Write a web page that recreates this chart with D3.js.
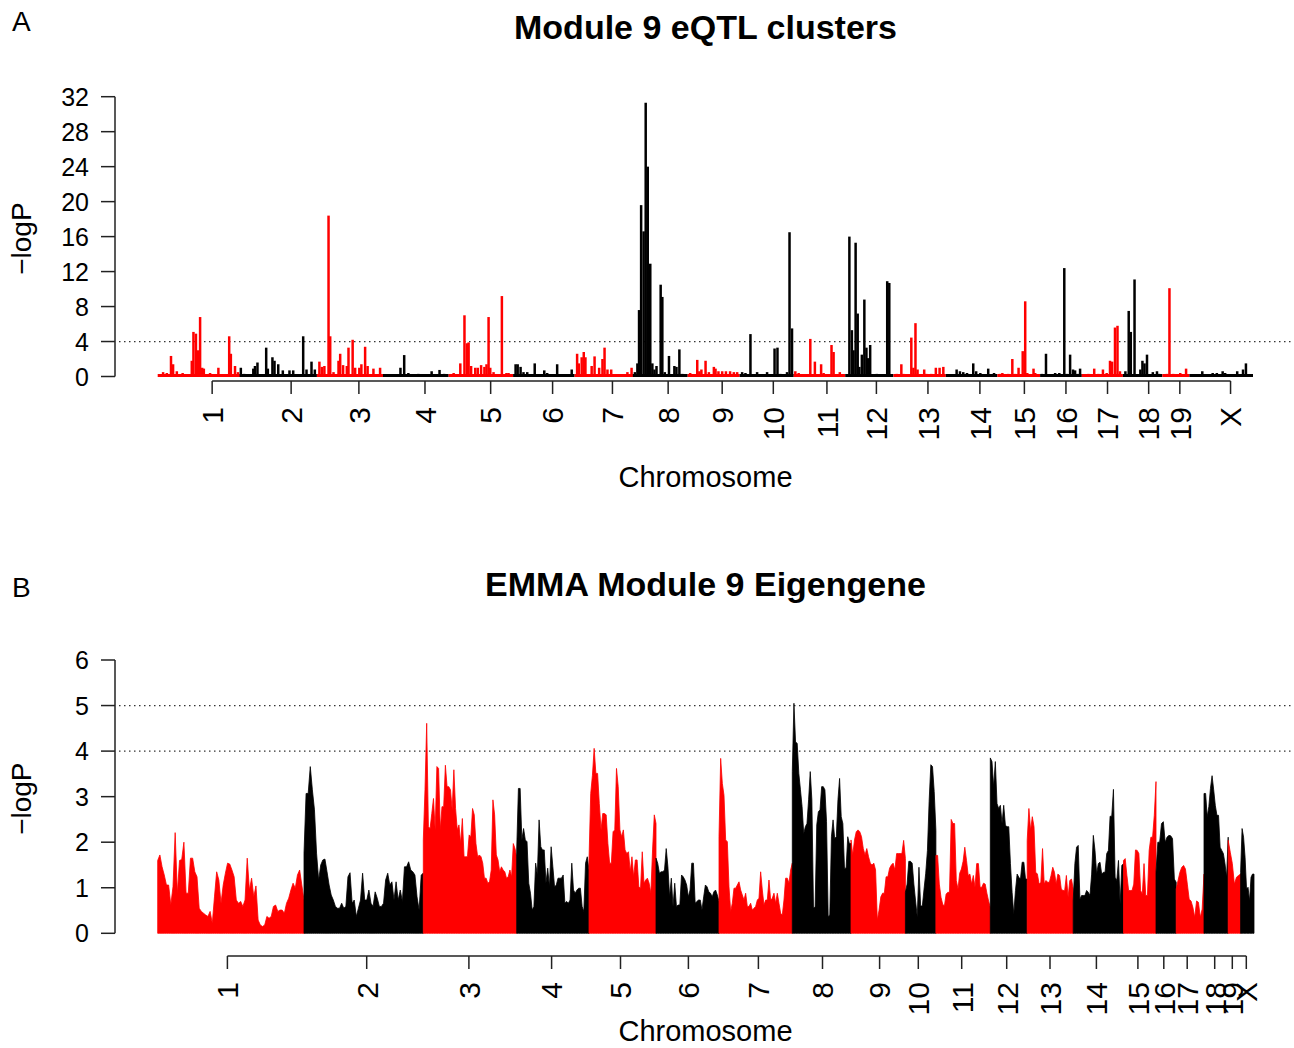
<!DOCTYPE html>
<html>
<head>
<meta charset="utf-8">
<script src="https://cdn.jsdelivr.net/npm/d3@7"></script>
<style>
body { margin: 0; background: #fff; }
text { font-family: "Liberation Sans", Arial, sans-serif; fill: #000; }
</style>
</head>
<body>
<svg id="chart" width="1294" height="1048"></svg>
<script>
// chromosome names, shared by both panels
const chromNames = ["1","2","3","4","5","6","7","8","9","10","11","12","13","14","15","16","17","18","19","X"];

// ---- panel A: eQTL clusters, positions in Mb ----
const chrLenMb = [198,185,159,158,155,148,140,132,125,130,124,116,126,124,103,100,99,95,65,153];
const tickPosA = [131,321,484,643,801,950,1094,1228,1358,1481,1610,1729,1853,1978,2085,2185,2285,2384,2459,2581];
const yTicksA = [0,4,8,12,16,20,24,28,32];
const thresholdA = [4];

// [position within chromosome (Mb), -logP]
const qtlBars = [
    [[13,0.5],[22,0.4],[32,2.35],[37,1.4],[46,0.6],[60,0.4],[82,1.8],[86,5.1],[92,4.9],[97,3.0],[102,6.8],[107,1.0],[111,0.9],[126,0.4],[146,1.0],[172,4.6],[176,2.6],[186,1.2],[193,0.5]],
    [[2,1.0],[10,0.3],[32,0.9],[36,1.2],[42,1.6],[63,3.3],[67,0.9],[78,2.2],[83,1.8],[92,1.4],[103,0.7],[119,0.7],[128,0.7],[152,4.6],[160,0.8],[172,1.7],[180,0.8]],
    [[6,1.7],[12,1.1],[18,1.2],[28,18.4],[32,4.6],[40,0.5],[52,1.8],[56,2.6],[63,1.3],[72,1.2],[76,3.3],[86,4.2],[92,1.0],[102,1.0],[107,1.4],[116,3.4],[122,1.2],[136,0.9],[152,1.0]],
    [[42,1.0],[51,2.45],[61,0.4],[85,0.3],[117,0.6],[136,0.75],[147,0.3]],
    [[12,0.4],[28,1.5],[38,7.0],[44,3.8],[48,3.9],[54,1.2],[64,1.0],[70,1.0],[78,1.3],[86,1.1],[91,1.4],[96,6.8],[100,1.0],[108,0.5],[128,9.2],[139,0.4],[144,0.4]],
    [[6,1.4],[11,1.4],[18,1.1],[25,0.5],[34,0.5],[52,1.5],[61,0.2],[75,0.7],[82,0.4],[106,1.4],[118,0.2],[141,0.8]],
    [[6,2.6],[10,1.5],[17,2.2],[22,2.8],[26,2.2],[41,1.2],[48,2.3],[59,1.0],[67,2.0],[72,3.3],[79,0.8],[88,0.8],[127,0.5],[137,1.0]],
    [[5,0.5],[11,1.5],[15,7.6],[20,19.6],[26,16.6],[31,31.3],[36,24.0],[42,12.9],[47,1.5],[52,0.8],[57,1.2],[67,10.5],[71,9.1],[77,0.5],[87,2.35],[92,0.2],[100,1.2],[105,1.1],[112,3.1],[119,0.3]],
    [[6,0.4],[23,1.9],[28,0.6],[33,0.8],[43,1.8],[51,0.5],[63,1.1],[67,0.9],[74,0.6],[83,0.6],[92,0.6],[102,0.6],[111,0.5],[119,0.5]],
    [[6,0.5],[14,0.4],[26,4.85],[42,0.5],[66,0.5],[84,3.2],[91,3.3],[98,0.3],[114,0.5],[120,16.5],[126,5.5]],
    [[4,0.6],[12,0.4],[26,0.2],[40,4.3],[51,1.7],[66,1.4],[72,0.4],[91,3.6],[96,2.8],[111,0.5]],
    [[10,16.0],[16,5.3],[20,3.0],[25,15.3],[30,7.2],[34,1.1],[40,2.5],[46,8.8],[51,3.3],[55,2.1],[60,3.6],[76,0.3],[101,10.9],[106,10.7]],
    [[8,0.3],[19,1.4],[24,0.3],[43,4.45],[48,1.0],[53,6.1],[58,0.8],[74,0.8],[79,0.3],[91,0.3],[102,1.0],[111,1.0],[120,1.1]],
    [[6,0.2],[26,0.8],[34,0.6],[42,0.5],[51,0.4],[66,1.5],[73,0.6],[83,0.4],[102,0.9],[106,0.2],[116,0.4]],
    [[6,0.3],[12,0.4],[26,0.3],[36,2.0],[43,0.3],[51,1.0],[61,2.9],[67,8.6],[72,0.4],[87,0.9],[91,0.4],[96,0.2]],
    [[4,0.3],[14,2.6],[24,0.2],[36,0.4],[46,0.4],[58,12.4],[64,0.3],[72,2.5],[79,0.8],[84,0.7],[90,0.3],[96,0.9]],
    [[4,0.2],[16,0.3],[30,0.9],[40,0.3],[51,0.8],[60,0.4],[68,1.8],[73,1.7],[80,5.6],[86,5.8],[92,0.6]],
    [[6,0.6],[14,7.5],[19,5.1],[28,11.1],[34,0.2],[42,0.8],[47,1.8],[52,1.5],[58,2.5],[66,0.2],[72,0.5],[82,0.6],[87,0.3]],
    [[5,0.2],[11,0.3],[17,10.1],[26,0.3],[33,0.2],[43,0.4],[49,0.2],[57,0.9]],
    [[6,0.1],[31,0.6],[42,0.1],[56,0.4],[66,0.4],[80,0.6],[86,0.4],[115,0.6],[122,0.2],[129,0.8],[136,1.5],[146,0.1]]
];

// ---- panel B: EMMA eigengene, positions in marker index ----
const snpCounts = [1463,1193,934,723,670,630,733,587,544,305,544,369,460,503,325,202,278,242,124,134];
const tickPosB = [697,2090,3112,3939,4628,5307,6007,6648,7219,7606,8040,8490,8923,9387,9802,10061,10295,10570,10746,10886];
const yTicksB = [0,1,2,3,4,5,6];
const thresholdB = [4,5];

// -logP along each chromosome, evenly spaced markers
const emmaValues = [
    [1.6,1.72,1.46,1.28,1.06,1.06,0.62,1.02,2.21,0.88,1.6,1.62,2.0,0.88,0.88,1.65,1.65,1.35,1.24,0.55,0.48,0.44,0.4,0.37,0.48,0.22,0.8,1.35,1.17,0.66,1.06,1.32,1.54,1.52,1.39,1.24,0.73,0.66,0.7,0.59,0.73,1.65,0.95,1.21,0.8,1.04,0.29,0.18,0.15,0.18,0.37,0.33,0.37,0.59,0.62,0.48,0.51,0.51,0.44,0.66,0.77,0.95,1.1,0.99,1.28,1.39,1.06,0.73],
    [1.76,3.07,3.07,3.66,3.15,2.71,1.76,1.17,1.5,1.61,1.63,1.35,1.06,0.84,0.73,0.59,0.55,0.55,0.66,0.55,0.59,1.24,1.33,0.66,0.73,0.37,0.55,0.73,1.32,0.73,0.73,0.95,0.66,0.59,0.91,0.77,0.59,0.59,0.66,1.17,1.32,1.06,1.13,0.73,1.13,0.73,0.95,0.7,1.46,1.46,1.57,1.39,1.35,1.28,0.8,0.51,1.28,1.32],
    [2.05,3.15,4.61,2.34,2.3,2.63,2.96,2.27,3.66,3.62,2.27,2.78,2.78,3.69,3.22,3.22,3.15,2.71,3.59,2.74,2.27,2.38,1.97,2.52,1.68,1.68,1.68,2.16,2.12,2.74,2.6,1.97,1.68,1.72,1.68,1.54,1.21,1.21,1.1,1.13,1.39,2.93,2.6,1.72,1.61,1.35,1.46,1.39,1.35,1.21,1.24,1.39,1.24,1.97,1.86,1.68],
    [1.83,3.18,3.18,2.05,2.3,2.05,2.01,1.1,0.88,0.51,0.59,1.54,1.28,2.49,1.9,1.83,1.83,1.1,1.43,1.02,1.9,1.46,1.02,1.06,1.21,1.21,1.21,1.28,0.66,0.7,0.66,0.73,1.54,0.95,0.88,0.95,0.99,0.99,0.59,0.48,1.54,1.68,1.39],
    [1.61,3.07,3.47,4.06,3.51,3.51,2.85,2.27,2.63,2.63,2.6,1.97,1.54,1.54,2.23,2.27,3.62,3.22,2.27,2.12,2.27,1.83,1.75,1.79,1.35,1.68,1.24,1.61,1.61,1.02,0.99,1.79,1.1,1.17,1.21,1.1,0.88,1.83,2.6,2.41],
    [1.65,1.54,1.32,1.35,1.35,1.39,1.86,1.46,0.8,1.21,0.59,1.1,0.59,0.62,0.62,1.28,1.24,1.17,1.06,0.8,0.95,1.54,1.54,0.66,0.7,0.73,0.73,0.51,0.8,1.06,1.02,0.91,0.88,0.8,0.91,0.95,0.84,0.7],
    [2.12,3.84,3.29,3.03,2.05,2.01,1.02,0.48,0.66,0.99,0.99,1.06,1.13,0.95,0.84,0.73,0.88,0.59,0.59,0.66,0.51,0.55,0.59,0.73,0.77,1.35,0.95,0.62,0.73,0.73,1.17,0.73,0.77,0.88,0.66,0.88,0.66,0.44,0.4,0.73,1.21,1.21,1.1,1.39,1.54],
    [3.55,5.05,4.2,4.17,3.51,3.15,2.78,2.19,2.34,2.41,2.93,3.55,2.93,0.55,0.59,2.38,2.67,2.71,3.22,3.22,3.15,2.45,0.37,0.4,2.12,2.49,2.08,2.12,2.93,3.4,2.56,2.41,1.43,1.43,2.12,1.97,1.97],
    [2.05,1.72,2.05,2.23,2.27,2.23,2.12,1.86,1.72,1.86,1.68,1.54,1.5,1.54,1.39,0.29,0.51,0.8,0.88,0.88,1.24,1.24,1.43,1.5,1.54,1.39,1.75,1.75,1.75,1.75,2.04,1.64],
    [0.9,1.08,1.58,1.58,1.54,1.08,0.71,0.36,1.45,0.6,0.6,0.97,1.32,1.82,2.89,3.7,3.66,3.11,2.26],
    [1.71,1.71,1.08,0.79,0.64,0.6,0.86,0.9,0.9,2.5,2.41,2.41,1.16,0.97,1.32,1.41,1.58,1.89,1.6,1.27,1.3,1.08,1.27,1.01,1.53,1.53,1.01,1.01,1.1,1.08,0.88,0.71,0.57],
    [3.85,3.77,3.22,3.77,2.85,2.74,2.81,2.41,2.81,2.37,2.34,2.34,1.53,0.9,0.42,0.94,1.3,1.23,1.19,1.56,1.56,1.19,1.19],
    [2.04,2.74,2.26,2.56,2.34,1.34,1.3,1.08,1.12,1.86,1.08,1.16,1.12,1.12,1.27,1.45,1.34,1.08,1.3,1.27,0.97,0.94,0.94,1.27,0.79,1.16,1.19,0.97],
    [0.71,1.53,1.89,1.93,0.75,0.83,0.83,0.83,0.94,0.9,0.83,1.3,2.15,1.82,1.3,1.53,1.56,1.3,1.34,1.34,1.75,1.82,2.57,2.57,3.16,1.23,1.16,1.6,0.64,1.49,1.53],
    [1.6,1.64,1.27,0.94,0.94,0.94,1.08,1.83,1.82,1.75,0.94,0.86,1.53,0.83,0.83,1.82,2.11,2.11,2.59,3.33],
    [1.34,2.0,2.0,2.41,2.45,2.0,2.11,2.15,2.14,2.08,1.19,1.12],
    [0.97,1.16,1.34,1.45,1.49,1.41,1.08,0.75,0.71,0.57,0.35,0.71,0.68,0.35,0.53,1.3],
    [3.07,3.07,2.56,2.78,3.18,3.46,3.15,2.81,2.59,2.59,1.89,1.82,1.75,1.53,1.23,2.11],
    [2.04,1.78,1.53,1.08,1.23,1.27,1.3],
    [1.34,2.3,2.11,1.67,0.97,1.01,0.71,1.23,1.3,1.3]
];

const svg = d3.select("#chart");
const chrColor = i => (i % 2 === 0 ? "#ff0000" : "#000000");
const axisColor = "#222";

function starts(lengths) {
    let s = 0;
    return lengths.map(l => { const o = s; s += l; return o; });
}

function yAxis(y, ticks, label) {
    const g = svg.append("g");
    g.append("line")
        .attr("x1", 115).attr("x2", 115)
        .attr("y1", y(ticks[0])).attr("y2", y(ticks[ticks.length - 1]))
        .attr("stroke", axisColor).attr("stroke-width", 1.5);
    g.selectAll("line.tick").data(ticks).enter().append("line")
        .attr("class", "tick")
        .attr("x1", 101).attr("x2", 115)
        .attr("y1", d => y(d)).attr("y2", d => y(d))
        .attr("stroke", axisColor).attr("stroke-width", 1.5);
    g.selectAll("text.tl").data(ticks).enter().append("text")
        .attr("class", "tl")
        .attr("x", 89).attr("y", d => y(d))
        .attr("dy", "0.36em")
        .attr("text-anchor", "end")
        .attr("font-size", 25)
        .text(d => d);
    const mid = (y.range()[0] + y.range()[1]) / 2 + 2;
    g.append("text")
        .attr("transform", `translate(31,${mid}) rotate(-90)`)
        .attr("text-anchor", "middle")
        .attr("font-size", 28)
        .text(label);
}

function xAxis(x, positions, axisY, titleY) {
    const g = svg.append("g");
    g.append("line")
        .attr("x1", x(positions[0])).attr("x2", x(positions[positions.length - 1]))
        .attr("y1", axisY).attr("y2", axisY)
        .attr("stroke", axisColor).attr("stroke-width", 1.5);
    g.selectAll("line.tick").data(positions).enter().append("line")
        .attr("class", "tick")
        .attr("x1", d => x(d)).attr("x2", d => x(d))
        .attr("y1", axisY).attr("y2", axisY + 13)
        .attr("stroke", axisColor).attr("stroke-width", 1.5);
    g.selectAll("text.tl").data(positions).enter().append("text")
        .attr("class", "tl")
        .attr("transform", d => `translate(${x(d)},${axisY + 26}) rotate(-90)`)
        .attr("dy", "0.36em")
        .attr("text-anchor", "end")
        .attr("font-size", 30)
        .text((d, i) => chromNames[i]);
    g.append("text")
        .attr("x", 705.5).attr("y", titleY)
        .attr("text-anchor", "middle")
        .attr("font-size", 29)
        .text("Chromosome");
}

function thresholds(y, levels) {
    svg.selectAll(null).data(levels).enter().append("line")
        .attr("x1", 119).attr("x2", 1294)
        .attr("y1", d => y(d)).attr("y2", d => y(d))
        .attr("stroke", "#333").attr("stroke-width", 1.3)
        .attr("stroke-dasharray", "1.5 3.5");
}

function title(text, y) {
    svg.append("text")
        .attr("x", 705.5).attr("y", y)
        .attr("text-anchor", "middle")
        .attr("font-size", 34)
        .attr("font-weight", "bold")
        .text(text);
}

function panelLetter(text, y) {
    svg.append("text")
        .attr("x", 12).attr("y", y)
        .attr("font-family", "Open Sans")
        .attr("font-size", 28)
        .text(text);
}

// ---------- Panel A ----------
const offA = starts(chrLenMb);
const xA = d3.scaleLinear().domain([0, d3.sum(chrLenMb)]).range([157.7, 1253]);
const yA = d3.scaleLinear().domain([0, 32]).range([376.5, 96.7]);

panelLetter("A", 31);
title("Module 9 eQTL clusters", 39);
thresholds(yA, thresholdA);

const gA = svg.append("g");
chrLenMb.forEach((len, i) => {
    gA.append("line")
        .attr("x1", xA(offA[i])).attr("x2", xA(offA[i] + len))
        .attr("y1", yA(0) - 1).attr("y2", yA(0) - 1)
        .attr("stroke", chrColor(i)).attr("stroke-width", 3);
    gA.selectAll(null).data(qtlBars[i]).enter().append("line")
        .attr("x1", d => xA(offA[i] + d[0])).attr("x2", d => xA(offA[i] + d[0]))
        .attr("y1", yA(0) + 0.5).attr("y2", d => yA(d[1]))
        .attr("stroke", chrColor(i)).attr("stroke-width", 2.5);
});

yAxis(yA, yTicksA, "\u2212logP");
xAxis(xA, tickPosA, 381, 487);

// ---------- Panel B ----------
const offB = starts(snpCounts);
const xB = d3.scaleLinear().domain([0, d3.sum(snpCounts)]).range([157.7, 1254]);
const yB = d3.scaleLinear().domain([0, 6]).range([933.3, 660]);

panelLetter("B", 597);
title("EMMA Module 9 Eigengene", 596);
thresholds(yB, thresholdB);

const gB = svg.append("g");
emmaValues.forEach((vals, i) => {
    const n = vals.length;
    const pts = vals.map((v, j) => [offB[i] + (j / (n - 1)) * snpCounts[i], v]);
    const area = d3.area()
        .x(d => xB(d[0]))
        .y0(yB(0))
        .y1(d => yB(d[1]));
    gB.append("path")
        .datum(pts)
        .attr("d", area)
        .attr("fill", chrColor(i))
        .attr("stroke", chrColor(i))
        .attr("stroke-width", 0.8);
});

yAxis(yB, yTicksB, "\u2212logP");
xAxis(xB, tickPosB, 956, 1041);
</script>
</body>
</html>
